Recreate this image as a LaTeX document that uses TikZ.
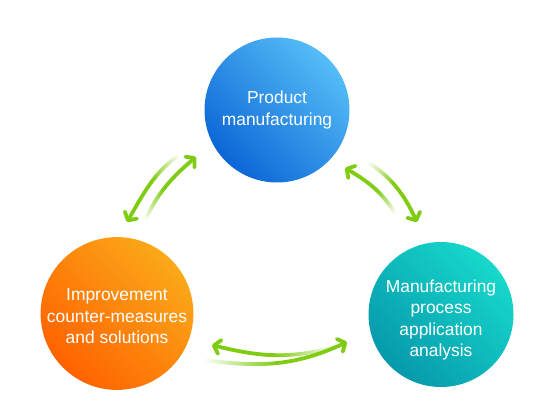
\documentclass[tikz,border=0pt]{standalone}
\usepackage{fontspec}
\setmainfont{Liberation Sans}
\usetikzlibrary{arrows.meta,fadings}

\definecolor{arrowgreen}{HTML}{7FCC12}
\definecolor{blueLight}{HTML}{55BDF7}
\definecolor{blueDark}{HTML}{0C66D6}
\definecolor{orangeLight}{HTML}{FBA919}
\definecolor{orangeDark}{HTML}{FF6200}
\definecolor{tealLight}{HTML}{17D8CB}
\definecolor{tealDark}{HTML}{0699AC}

\tikzfading[name=tipfade, left color=transparent!100, right color=transparent!0, middle color=transparent!0]

\begin{document}
\begin{tikzpicture}[x=1pt,y=1pt,
  stage/.style={circle, minimum size=145pt, inner sep=0pt, align=center, text=white,
    font=\fontsize{17.4}{21.5}\selectfont},
  loop arrow/.style={draw=arrowgreen, line width=3.8pt,
    -{Straight Barb[length=6pt,width=14pt,round]},
    path fading=tipfade, fading angle=#1}]
  \useasboundingbox (0,0) rectangle (554,402);

  \node[stage, top color=blueLight, bottom color=blueDark, shading angle=-45]
    (product) at (277,292) {Product\\manufacturing};
  \node[stage, top color=tealLight, bottom color=tealDark, shading angle=-45]
    (process) at (441,87.5) {\rule{0pt}{24pt}Manufacturing\\process\\application\\analysis};
  \node[stage, top color=orangeLight, bottom color=orangeDark, shading angle=-45]
    (improve) at (117,88.5) {\rule{0pt}{18pt}Improvement\\counter-measures\\and solutions};

  % arrow ends
  \coordinate (lf1) at (190,254);
  \coordinate (lt1) at (127,180);
  \coordinate (lf2) at (140,170);
  \coordinate (lt2) at (196,245);
  \coordinate (rf1) at (400,180);
  \coordinate (rt1) at (345,234);
  \coordinate (rf2) at (358,246);
  \coordinate (rt2) at (417,180);
  \coordinate (bf1) at (335,55);
  \coordinate (bt1) at (212,57);
  \coordinate (bf2) at (205,42);
  \coordinate (bt2) at (347,60);

  \draw[loop arrow=230] (lf1) to[out=210,in=60] (lt1);
  \draw[loop arrow=53] (lf2) to[out=68,in=220] (lt2);
  \draw[loop arrow=135] (rf1) to[out=118,in=-30] (rt1);
  \draw[loop arrow=-48] (rf2) to[out=-30,in=115] (rt2);
  \draw[loop arrow=180] (bf1) to[out=195,in=-14] (bt1);
  \draw[loop arrow=0] (bf2) to[out=-8,in=205] (bt2);
\end{tikzpicture}
\end{document}
